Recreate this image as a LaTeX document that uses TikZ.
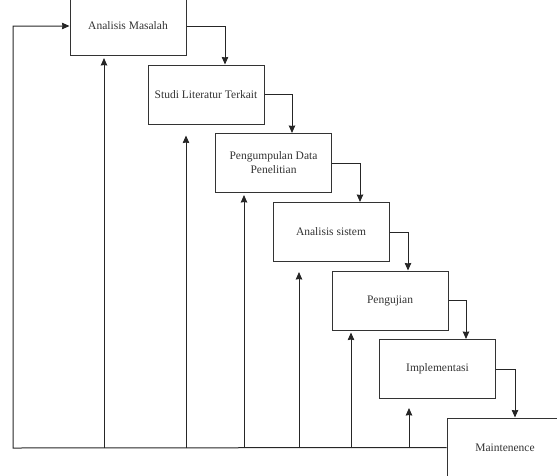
\documentclass[tikz,border=0pt]{standalone}
\usepackage{fontspec}
\setmainfont{Liberation Serif}
\usepackage{tikz}
\usetikzlibrary{calc, arrows.meta}

\begin{document}
\begin{tikzpicture}[x = 1pt, y = -1pt,
		stage/.style = {draw = black!80, line width = 1pt, minimum width = 116pt, minimum height = 59pt, align = center, text = black!80, font = \fontsize{11.5}{14}\selectfont},
		flow/.style = {draw = black!85, line width = 1pt, -{Stealth[length = 7.5pt, width = 6.5pt, inset = 0.5pt]}}]
	\useasboundingbox (0,0) rectangle (557,475);
	\begin{scope}
		\clip (0,0) rectangle (557,475);

		\node [stage] (masalah) at (128,26) {Analisis Masalah};
		\node [stage] (literatur) at (206,94.5) {Studi Literatur Terkait};
		\node [stage] (data) at (273.5,163) {Pengumpulan Data\\Penelitian};
		\node [stage] (sistem) at (331,232) {Analisis sistem};
		\node [stage] (uji) at (390,300.5) {Pengujian};
		\node [stage] (implementasi) at (437.5,369) {Implementasi};
		\node [stage] (maintenence) at (505,447.5) {Maintenence};
	\end{scope}

	% alur ke bawah
	\begin{scope}[flow]
		\draw (masalah.east) -| ([xshift = 19pt]literatur.north);
		\draw (literatur.east) -| ([xshift = 18.5pt]data.north);
		\draw (data.east) -| ([xshift = 29pt]sistem.north);
		\draw (sistem.east) -| ([xshift = 18pt]uji.north);
		\draw (uji.east) -| ([xshift = 28.5pt]implementasi.north);
		\draw (implementasi.east) -| ([xshift = 10pt]maintenence.north);
	\end{scope}

	% umpan balik
	\coordinate (base) at (13,448);
	\draw [flow] (maintenence.west) -- (base) |- (masalah.west);
	\foreach \dx/\gap/\n in {-24/2/masalah, -20/11/literatur, -29.5/2/data, -32/10/sistem, -39/2/uji, -28.5/9/implementasi}
		\draw [flow] ($(\n.south |- base) + (\dx,0)$) -- ($(\n.south) + (\dx,\gap)$);
\end{tikzpicture}
\end{document}
